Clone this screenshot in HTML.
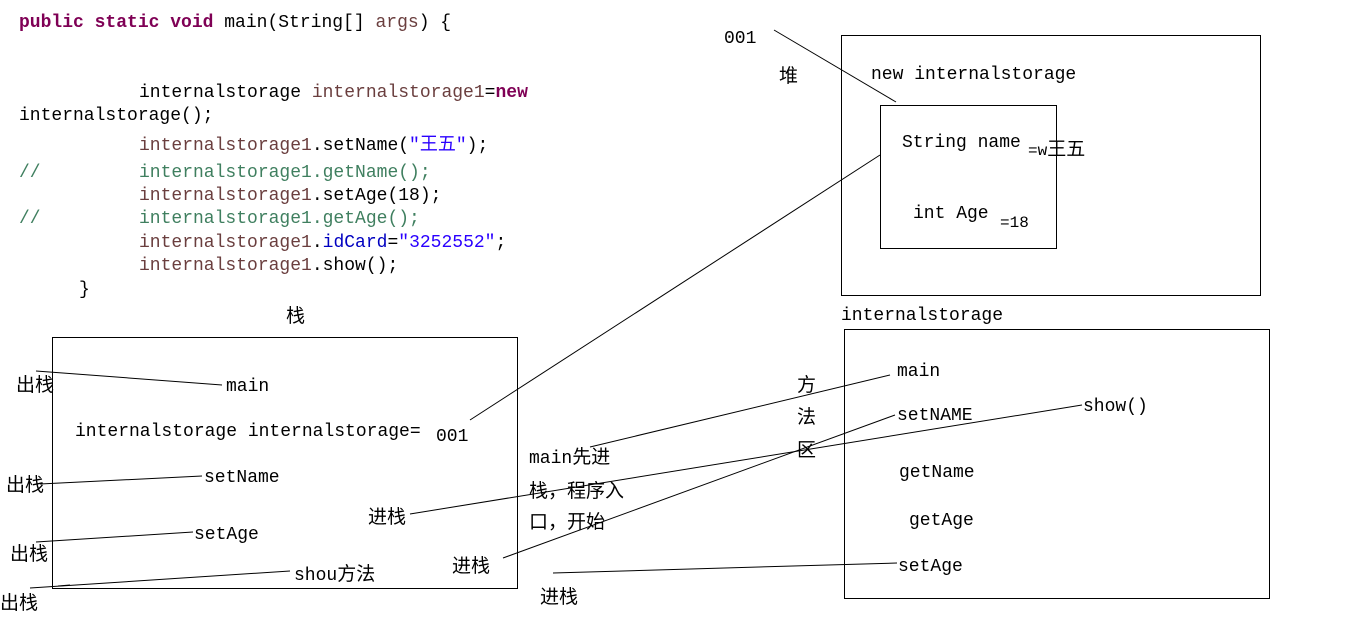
<!DOCTYPE html>
<html><head><meta charset="utf-8"><style>
html,body{margin:0;padding:0;background:#fff;}
svg{display:block;}
text{font-family:"Liberation Mono","Noto Sans CJK SC",monospace;font-size:18px;fill:#000;}
.cn{font-family:"Liberation Sans","Noto Sans CJK SC",sans-serif;font-size:19px;}
.k{fill:#7f0055;font-weight:bold;}
.v{fill:#6a3e3e;}
.s{fill:#2a00ff;}
.c{fill:#3f7f5f;}
.f{fill:#0000c0;}
</style></head><body>
<svg width="1350" height="629" viewBox="0 0 1350 629" xmlns="http://www.w3.org/2000/svg">
<g stroke="#000" stroke-width="1" fill="none">
<rect x="52.5" y="337.5" width="465" height="251"/>
<rect x="841.5" y="35.5" width="419" height="260"/>
<rect x="880.5" y="105.5" width="176" height="143"/>
<rect x="844.5" y="329.5" width="425" height="269"/>
<line x1="774" y1="30" x2="896" y2="102"/>
<line x1="880" y1="155" x2="470" y2="420"/>
<line x1="36" y1="371" x2="222" y2="385"/>
<line x1="40" y1="484" x2="202" y2="476"/>
<line x1="36" y1="542" x2="193" y2="532"/>
<line x1="30" y1="588" x2="290" y2="571"/>
<line x1="58" y1="586" x2="70" y2="585"/>
<line x1="410" y1="514" x2="1082" y2="405"/>
<line x1="590" y1="447" x2="890" y2="375"/>
<line x1="503" y1="558" x2="895" y2="415"/>
<line x1="553" y1="573" x2="897" y2="563"/>
</g>
<text x="19" y="27"><tspan class="k">public static void</tspan> main(String[] <tspan class="v">args</tspan>) {</text>
<text x="139" y="97">internalstorage <tspan class="v">internalstorage1</tspan>=<tspan class="k">new</tspan></text>
<text x="19" y="120">internalstorage();</text>
<text x="139" y="150"><tspan class="v">internalstorage1</tspan>.setName(<tspan class="s">"王五"</tspan>);</text>
<text x="19" y="177" class="c">//</text><text x="139" y="177" class="c">internalstorage1.getName();</text>
<text x="139" y="200"><tspan class="v">internalstorage1</tspan>.setAge(18);</text>
<text x="19" y="223" class="c">//</text><text x="139" y="223" class="c">internalstorage1.getAge();</text>
<text x="139" y="247"><tspan class="v">internalstorage1</tspan>.<tspan class="f">idCard</tspan>=<tspan class="s">"3252552"</tspan>;</text>
<text x="139" y="270"><tspan class="v">internalstorage1</tspan>.show();</text>
<text x="79" y="294">}</text>

<text x="724" y="43">001</text>
<text x="779" y="82" class="cn">堆</text>
<text x="871" y="79">new internalstorage</text>
<text x="902" y="147">String name</text>
<text x="1028" y="155" style="font-size:16px">=w<tspan class="cn" style="font-size:19px">王五</tspan></text>
<text x="913" y="218">int Age</text>
<text x="1000" y="227" style="font-size:16px">=18</text>
<text x="841" y="320">internalstorage</text>

<text x="286" y="322" class="cn">栈</text>
<text x="16" y="391" class="cn">出栈</text>
<text x="226" y="391">main</text>
<text x="75" y="436">internalstorage internalstorage=</text>
<text x="436" y="441">001</text>
<text x="6" y="491" class="cn">出栈</text>
<text x="204" y="482">setName</text>
<text x="10" y="560" class="cn">出栈</text>
<text x="194" y="539">setAge</text>
<text x="0" y="609" class="cn">出栈</text>
<text x="294" y="580">shou<tspan class="cn">方法</tspan></text>
<text x="368" y="523" class="cn">进栈</text>
<text x="452" y="572" class="cn">进栈</text>
<text x="540" y="603" class="cn">进栈</text>
<text x="529" y="463">main<tspan class="cn">先进</tspan></text>
<text x="529" y="497" class="cn">栈，程序入</text>
<text x="529" y="528" class="cn">口，开始</text>
<text x="797" y="391" class="cn">方</text>
<text x="797" y="423" class="cn">法</text>
<text x="797" y="456" class="cn">区</text>
<text x="897" y="376">main</text>
<text x="897" y="420">setNAME</text>
<text x="1083" y="411">show()</text>
<text x="899" y="477">getName</text>
<text x="909" y="525">getAge</text>
<text x="898" y="571">setAge</text>
</svg>
</body></html>
